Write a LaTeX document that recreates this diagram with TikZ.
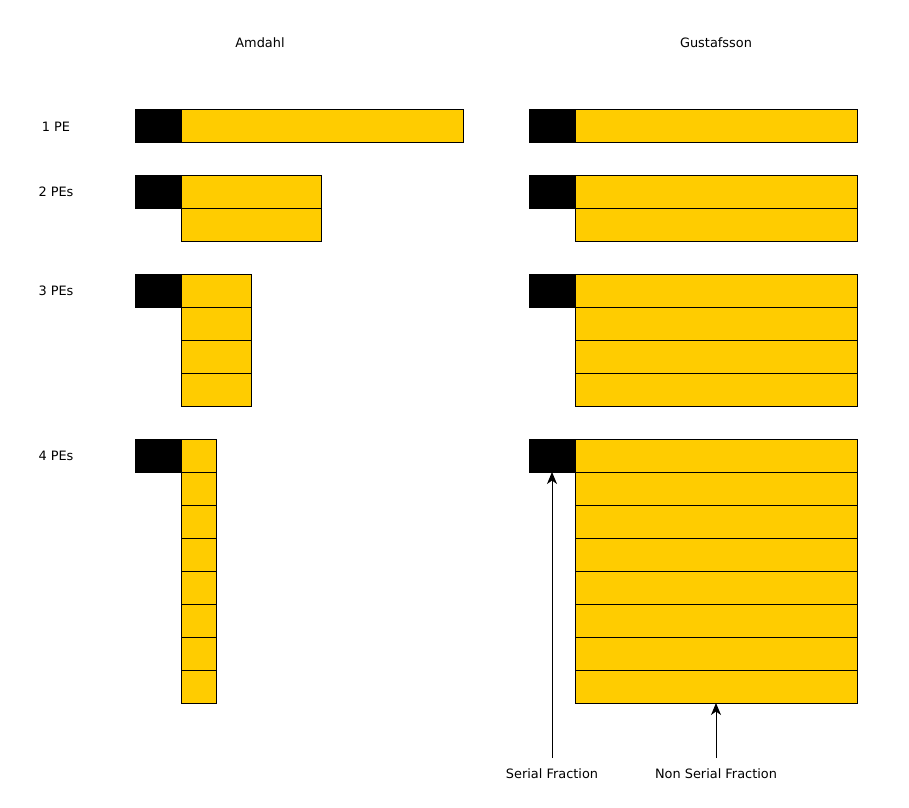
\documentclass[tikz,border=0pt]{standalone}
\usepackage{fontspec}
\setmainfont{DejaVu Sans}
\usetikzlibrary{arrows.meta}
\definecolor{pyellow}{HTML}{FFCC00}
\begin{document}
\begin{tikzpicture}[x=1pt,y=-1pt,
  serialbox/.style={draw=black,fill=black,line width=1pt,minimum width=46pt,minimum height=33pt,anchor=north west,inner sep=0pt,outer sep=0pt},
  workbox/.style={draw=black,fill=pyellow,line width=1pt,minimum height=33pt,anchor=north west,inner sep=0pt,outer sep=0pt},
  lbl/.style={font=\fontsize{12.9}{15}\selectfont,inner sep=0pt},
  arr/.style={line width=1pt,-{Stealth[length=12pt,width=10pt,inset=3.5pt]}}]
\useasboundingbox (0,0) rectangle (909,807);
\node[lbl] (tA) at (260,43) {Amdahl};
\node[lbl] (tG) at (716,43) {Gustafsson};
\node[lbl] (l1) at (56,127) {1 PE};
\node[lbl] (l2) at (56,192) {2 PEs};
\node[lbl] (l3) at (56,291) {3 PEs};
\node[lbl] (l4) at (56,456) {4 PEs};
% Amdahl
\node[serialbox] (a1s) at (135,109) {};
\node[workbox,minimum width=282pt] (a1r1) at (181,109) {};
\node[serialbox] (a2s) at (135,175) {};
\foreach \i in {1,2} \node[workbox,minimum width=140pt] (a2r\i) at (181,{175+33*(\i-1)}) {};
\node[serialbox] (a3s) at (135,274) {};
\foreach \i in {1,...,4} \node[workbox,minimum width=70pt] (a3r\i) at (181,{274+33*(\i-1)}) {};
\node[serialbox] (a4s) at (135,439) {};
\foreach \i in {1,...,8} \node[workbox,minimum width=35pt] (a4r\i) at (181,{439+33*(\i-1)}) {};
% Gustafsson
\node[serialbox] (g1s) at (529,109) {};
\node[workbox,minimum width=282pt] (g1r1) at (575,109) {};
\node[serialbox] (g2s) at (529,175) {};
\foreach \i in {1,2} \node[workbox,minimum width=282pt] (g2r\i) at (575,{175+33*(\i-1)}) {};
\node[serialbox] (g3s) at (529,274) {};
\foreach \i in {1,...,4} \node[workbox,minimum width=282pt] (g3r\i) at (575,{274+33*(\i-1)}) {};
\node[serialbox] (g4s) at (529,439) {};
\foreach \i in {1,...,8} \node[workbox,minimum width=282pt] (g4r\i) at (575,{439+33*(\i-1)}) {};
% arrows
\coordinate (sfs) at (552,758);
\coordinate (nsfs) at (716,758);
\draw[arr] (sfs) -- (g4s.south);
\draw[arr] (nsfs) -- (g4r8.south);
\node[lbl] (sfl) at (552,774) {Serial Fraction};
\node[lbl] (nsfl) at (716,774) {Non Serial Fraction};
\end{tikzpicture}
\end{document}
